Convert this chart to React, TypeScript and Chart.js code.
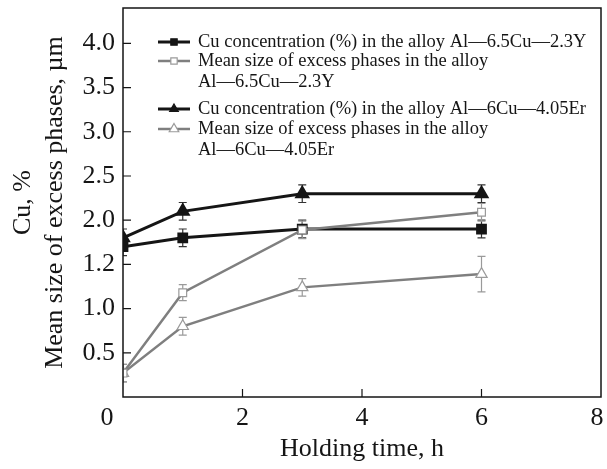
import React, { useEffect, useRef } from 'react';
import { Chart, registerables } from 'chart.js';
import { drawPoint } from 'chart.js/helpers';

Chart.register(...registerables);

// ---- data ----
const hours = [0, 1, 3, 6];
const cuY = [1.7, 1.8, 1.9, 1.9];
const cuYErr = [0.1, 0.1, 0.1, 0.1];
const sizeY = [0.27, 1.18, 1.89, 2.09];
const sizeYErr = [0.1, 0.09, 0.1, 0.1];
const cuEr = [1.8, 2.1, 2.3, 2.3];
const cuErErr = [0.1, 0.1, 0.1, 0.1];
const sizeEr = [0.27, 0.8, 1.24, 1.39];
const sizeErErr = [0.1, 0.1, 0.1, 0.2];

const xTickValues = [0, 2, 4, 6, 8];
const xTickLabels = ['0', '2', '4', '6', '8'];
const yTickValues = [0.5, 1, 1.5, 2, 2.5, 3, 3.5, 4];
const yTickLabels = ['0.5', '1.0', '1.2', '2.0', '2.5', '3.0', '3.5', '4.0'];

const legendLabels = [
  ['Cu concentration (%) in the alloy Al—6.5Cu—2.3Y'],
  ['Mean size of excess phases in the alloy', 'Al—6.5Cu—2.3Y'],
  ['Cu concentration (%) in the alloy Al—6Cu—4.05Er'],
  ['Mean size of excess phases in the alloy', 'Al—6Cu—4.05Er'],
];

const xTitle = 'Holding time, h';
const yTitle = ['Cu, %', 'Mean size of excess phases, µm'];

const FONT = "'Liberation Serif', 'Times New Roman', serif";
const BLACK = '#151515';
const GREY = '#7f7f7f';
const LIGHT = '#9a9a9a';

const pts = (ys: number[]) => hours.map((h, i) => ({ x: h, y: ys[i] }));

const errorBarPlugin = {
  id: 'errorBars',
  beforeDatasetsDraw(chart: any) {
    const { ctx, chartArea, scales } = chart;
    const xs = scales.x, ys = scales.y;
    ctx.save();
    ctx.beginPath();
    ctx.rect(chartArea.left, chartArea.top, chartArea.right - chartArea.left, chartArea.bottom - chartArea.top);
    ctx.clip();
    chart.data.datasets.forEach((ds: any) => {
      ctx.strokeStyle = ds.errColor;
      ctx.lineWidth = 1.2;
      ds.data.forEach((p: any, j: number) => {
        const e = ds.errors[j];
        const x = xs.getPixelForValue(p.x);
        const y1 = ys.getPixelForValue(p.y + e);
        const y2 = ys.getPixelForValue(p.y - e);
        ctx.beginPath();
        ctx.moveTo(x, y1); ctx.lineTo(x, y2);
        ctx.moveTo(x - 4, y1); ctx.lineTo(x + 4, y1);
        ctx.moveTo(x - 4, y2); ctx.lineTo(x + 4, y2);
        ctx.stroke();
      });
    });
    ctx.restore();
  },
};

const framePlugin = {
  id: 'frame',
  afterDraw(chart: any) {
    const { ctx, chartArea: a, scales } = chart;
    ctx.save();
    // box
    ctx.strokeStyle = BLACK;
    ctx.lineWidth = 1.5;
    ctx.strokeRect(a.left, a.top, a.right - a.left, a.bottom - a.top);
    // inward ticks
    ctx.lineWidth = 1.2;
    ctx.beginPath();
    yTickValues.forEach((v) => {
      const y = scales.y.getPixelForValue(v);
      ctx.moveTo(a.left, y); ctx.lineTo(a.left + 8, y);
    });
    xTickValues.forEach((v) => {
      if (v === 0 || v === 8) return;
      const x = scales.x.getPixelForValue(v);
      ctx.moveTo(x, a.bottom); ctx.lineTo(x, a.bottom - 8);
    });
    ctx.stroke();
    // x tick labels
    ctx.fillStyle = BLACK;
    ctx.font = `26px ${FONT}`;
    ctx.textAlign = 'center';
    ctx.textBaseline = 'middle';
    xTickValues.forEach((v, i) => {
      let x = scales.x.getPixelForValue(v);
      if (i === 0) x -= 16;
      if (i === xTickValues.length - 1) x -= 4;
      ctx.fillText(xTickLabels[i], x, a.bottom + 21);
    });
    // legend
    const ds = chart.data.datasets;
    const rows = [42, 61, 109, 129];
    ctx.font = `18.5px ${FONT}`;
    ctx.textAlign = 'left';
    legendLabels.forEach((lines, i) => {
      const d = ds[i];
      const y = rows[i];
      ctx.strokeStyle = d.borderColor;
      ctx.lineWidth = d.borderWidth;
      ctx.beginPath();
      ctx.moveTo(158, y); ctx.lineTo(190, y);
      ctx.stroke();
      ctx.fillStyle = d.pointBackgroundColor;
      ctx.strokeStyle = d.pointBorderColor;
      ctx.lineWidth = 1.2;
      drawPoint(ctx, { pointStyle: d.pointStyle, rotation: 0, borderWidth: 1.2, radius: d.pointRadius - 1 } as any, 174, y);
      ctx.fillStyle = BLACK;
      lines.forEach((t, k) => ctx.fillText(t, 198, y + k * 21.5));
    });
    ctx.restore();
  },
};

export default function App() {
  const ref = useRef<HTMLCanvasElement>(null);
  useEffect(() => {
    if (!ref.current) return;
    const chart = new Chart(ref.current, {
      type: 'line',
      data: {
        datasets: [
          {
            label: legendLabels[0].join(' '),
            data: pts(cuY),
            errors: cuYErr,
            errColor: '#333',
            borderColor: BLACK,
            borderWidth: 3,
            pointStyle: 'rect',
            pointRadius: 5.5,
            pointBackgroundColor: BLACK,
            pointBorderColor: BLACK,
            order: 3,
          },
          {
            label: legendLabels[1].join(' '),
            data: pts(sizeY),
            errors: sizeYErr,
            errColor: LIGHT,
            borderColor: GREY,
            borderWidth: 2.5,
            pointStyle: 'rect',
            pointRadius: 5.5,
            pointBackgroundColor: '#ffffff',
            pointBorderColor: LIGHT,
            pointBorderWidth: 1.2,
            order: 0,
          },
          {
            label: legendLabels[2].join(' '),
            data: pts(cuEr),
            errors: cuErErr,
            errColor: '#333',
            borderColor: BLACK,
            borderWidth: 3,
            pointStyle: 'triangle',
            pointRadius: 6,
            pointBackgroundColor: BLACK,
            pointBorderColor: BLACK,
            order: 2,
          },
          {
            label: legendLabels[3].join(' '),
            data: pts(sizeEr),
            errors: sizeErErr,
            errColor: LIGHT,
            borderColor: GREY,
            borderWidth: 2.5,
            pointStyle: 'triangle',
            pointRadius: 6.5,
            pointBackgroundColor: '#ffffff',
            pointBorderColor: LIGHT,
            pointBorderWidth: 1.2,
            order: 1,
          },
        ] as any,
      },
      options: {
        animation: false,
        responsive: true,
        maintainAspectRatio: false,
        layout: { autoPadding: false, padding: { top: 8, right: 6, left: 0, bottom: 0 } },
        plugins: { legend: { display: false }, tooltip: { enabled: false } },
        elements: { line: { tension: 0 } },
        scales: {
          x: {
            type: 'linear',
            min: 0,
            max: 8,
            afterBuildTicks: (s: any) => { s.ticks = xTickValues.map((v) => ({ value: v })); },
            afterFit: (s: any) => { s.height = 72; s.paddingLeft = 0; s.paddingRight = 0; },
            ticks: { display: false },
            grid: { display: false },
            border: { display: false },
            title: {
              display: true,
              text: xTitle,
              color: BLACK,
              font: { family: FONT, size: 26, lineHeight: 1.12 },
              padding: { top: 0, bottom: 5.5 },
            },
          },
          y: {
            type: 'linear',
            min: 0,
            max: 4.4,
            afterBuildTicks: (s: any) => { s.ticks = yTickValues.map((v) => ({ value: v })); },
            afterFit: (s: any) => { s.width = 123; s.paddingTop = 0; s.paddingBottom = 0; s.paddingLeft = 0; s.paddingRight = 0; },
            ticks: {
              color: BLACK,
              font: { family: FONT, size: 26, lineHeight: 0.5 },
              padding: 8,
              callback: (_v: any, i: number) => yTickLabels[i],
            },
            grid: { display: false, drawTicks: false },
            border: { display: false },
            title: {
              display: true,
              text: yTitle,
              color: BLACK,
              font: { family: FONT, size: 26, lineHeight: 1.25 },
              padding: { top: 6.5, bottom: 0 },
            },
          },
        },
      },
      plugins: [errorBarPlugin, framePlugin],
    } as any);
    return () => chart.destroy();
  }, []);
  return (
    <div style={{ position: 'fixed', left: 0, top: 0, width: 607, height: 469, background: '#fff' }}>
      <canvas ref={ref} />
    </div>
  );
}
